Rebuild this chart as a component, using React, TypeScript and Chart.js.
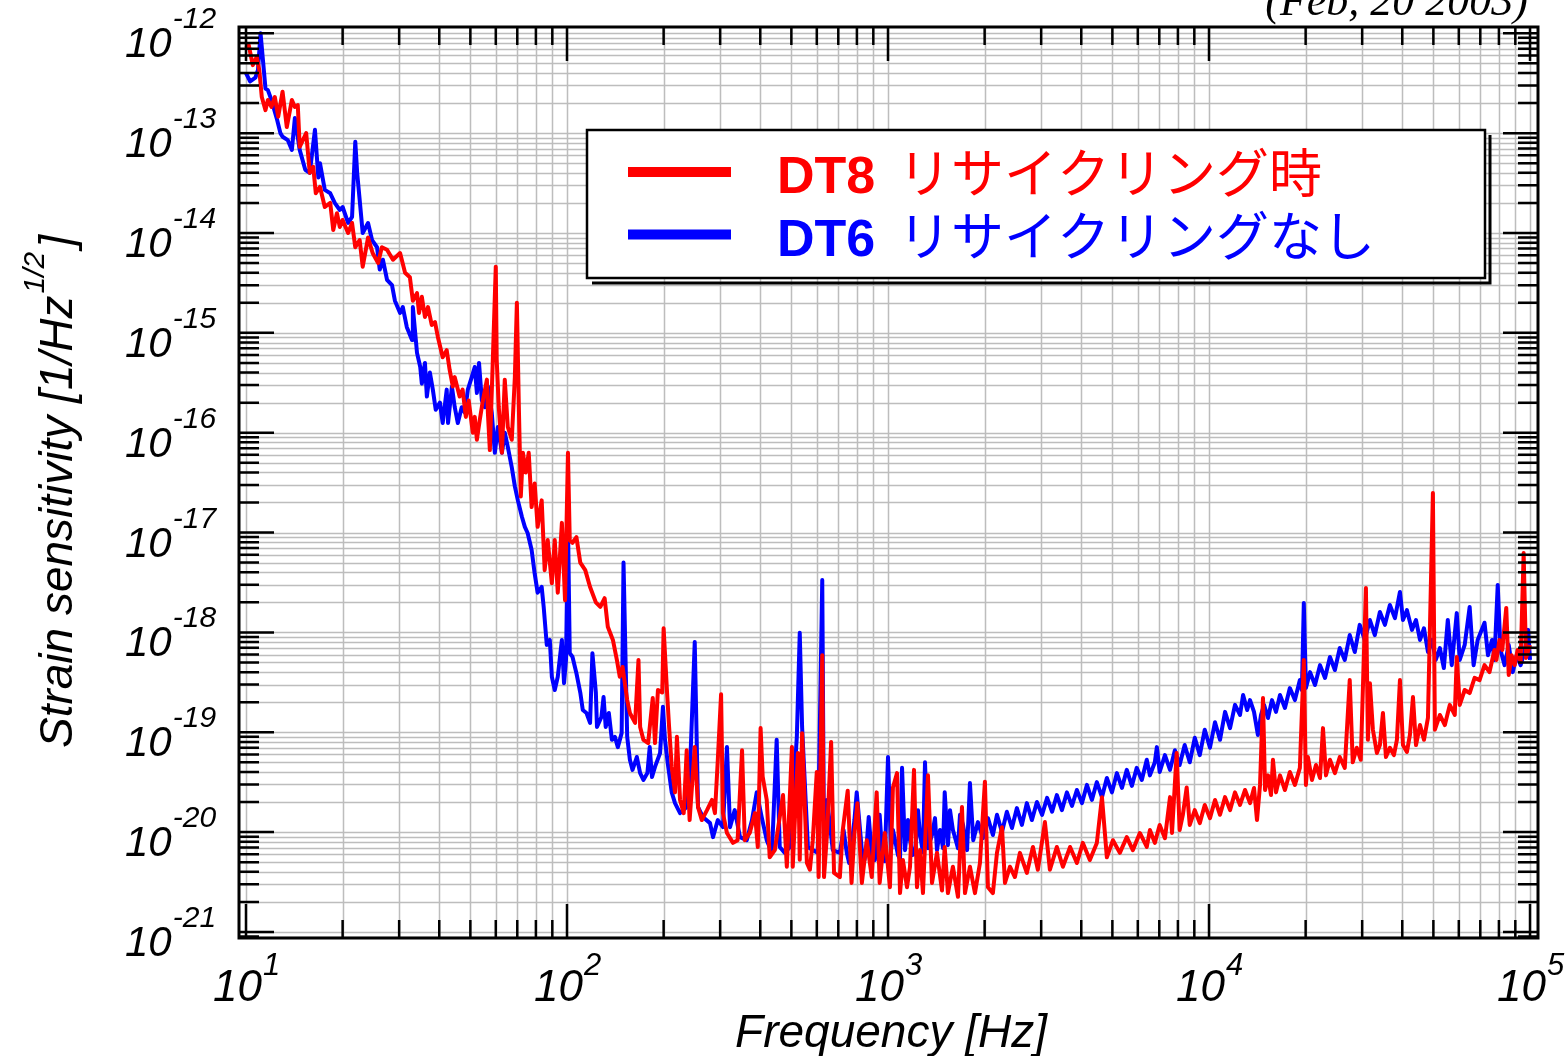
import React, { useEffect, useRef } from "react";
import { Chart, registerables } from "chart.js";

Chart.register(...registerables);

// ---- DT8 (recycling) : frequency [Hz] and strain [1/Hz^1/2]
const dt8Freq = [
  10.0, 10.2, 10.5, 10.8, 11.0, 11.2, 11.5, 11.7, 12.0, 12.3,
  12.6, 13.0, 13.4, 13.9, 14.2, 14.5, 14.7, 15.4, 15.8, 16.2,
  16.5, 17.0, 17.6, 18.3, 18.7, 19.2, 19.6, 20.0, 20.8, 21.4,
  21.9, 22.6, 23.1, 24.0, 24.8, 25.8, 26.5, 27.5, 28.7, 30.2,
  31.3, 32.4, 33.1, 34.1, 34.6, 35.3, 36.1, 36.9, 37.9, 38.8,
  39.6, 41.0, 42.2, 43.1, 44.1, 44.7, 46.3, 47.3, 48.4, 49.4,
  50.9, 51.6, 52.4, 53.5, 54.7, 56.3, 56.7, 57.5, 58.7, 60.0,
  60.4, 61.3, 62.7, 64.0, 65.4, 67.3, 68.8, 69.8, 70.8, 71.8,
  72.9, 74.4, 76.0, 77.6, 79.3, 81.0, 83.4, 85.2, 87.1, 89.7,
  91.6, 93.6, 96.4, 98.6, 100.7, 102, 104, 107, 110, 114,
  118, 123, 127, 131, 134, 139, 143, 146, 149, 154,
  157, 163, 167, 169, 173, 179, 185, 188, 192, 198,
  200, 205, 208, 212, 217, 220, 225, 231, 236, 241,
  250, 256, 263, 273, 283, 289, 295, 302, 306, 315,
  329, 340, 351, 358, 371, 385, 393, 401, 407, 419,
  428, 444, 471, 484, 502, 505, 524, 531, 540, 559,
  571, 583, 600, 608, 624, 632, 646, 665, 679, 708,
  723, 749, 770, 786, 803, 829, 859, 890, 922, 942,
  977, 1014, 1036, 1067, 1090, 1113, 1146, 1171, 1205, 1231,
  1258, 1285, 1332, 1371, 1421, 1473, 1502, 1537, 1593, 1652,
  1700, 1737, 1800, 1866, 1934, 2004, 2048, 2122, 2185, 2265,
  2314, 2398, 2485, 2576, 2707, 2828, 2930, 3082, 3194, 3358,
  3506, 3692, 3876, 4046, 4254, 4473, 4640, 4806, 5020, 5275,
  5545, 5790, 6090, 6400, 6545, 6780, 7020, 7290, 7560, 7670,
  7930, 8100, 8290, 8520, 8710, 9030, 9360, 9700, 10070, 10440,
  10820, 11220, 11630, 12050, 12490, 12950, 13420, 13810, 14110, 14420,
  14730, 14950, 15270, 15600, 15820, 16170, 16640, 17240, 17860, 18520,
  19190, 19740, 20040, 20330, 20930, 21540, 22170, 22650, 23140, 23810,
  24670, 25550, 26480, 27440, 28040, 28850, 29700, 30820, 31260, 31710,
  32400, 33340, 34070, 34820, 35580, 36600, 37670, 38490, 39340, 40200,
  41360, 42260, 43190, 44140, 45420, 46740, 48090, 49830, 50550, 52390,
  54290, 56250, 58290, 59130, 60400, 62590, 64860, 67200, 69640, 72160,
  74780, 77480, 78600, 80290, 81960, 84330, 85850, 87640, 89550, 91510,
  93490, 95540, 97170, 100000,
];
const dt8Strain = [
  7.1e-13, 7.6e-13, 4.8e-13, 5.8e-13, 4.3e-13, 2.3e-13, 1.7e-13, 2.15e-13, 1.83e-13, 2.3e-13,
  1.46e-13, 2.6e-13, 1.15e-13, 2.15e-13, 1.83e-13, 1.91e-13, 7.3e-14, 1.0e-13, 4.0e-14, 4.6e-14,
  2.5e-14, 2.9e-14, 1.82e-14, 2.0e-14, 1.07e-14, 1.58e-14, 1.15e-14, 1.35e-14, 1.0e-14, 1.26e-14,
  7.2e-15, 8.5e-15, 4.6e-15, 9.0e-15, 6.3e-15, 5.0e-15, 7.2e-15, 6.8e-15, 5.4e-15, 6.3e-15,
  4.0e-15, 3.6e-15, 2.1e-15, 2.5e-15, 1.58e-15, 2.3e-15, 1.44e-15, 1.81e-15, 1.2e-15, 1.28e-15,
  9.1e-16, 5.7e-16, 6.7e-16, 4.25e-16, 2.9e-16, 3.6e-16, 2.3e-16, 2.7e-16, 1.44e-16, 2.1e-16,
  1.0e-16, 1.44e-16, 8.5e-17, 1.35e-16, 2.1e-16, 3.4e-16, 1.58e-16, 6.7e-17, 5.0e-16, 4.6e-15,
  5.4e-16, 1.81e-16, 6.3e-17, 3.4e-16, 1.14e-16, 8.5e-17, 3.6e-16, 2.0e-15, 1.81e-16, 2.3e-17,
  6.3e-17, 4.0e-17, 6.3e-17, 1.8e-17, 3.1e-17, 1.14e-17, 2.1e-17, 4.2e-18, 8.4e-18, 3.1e-18,
  8.4e-18, 2.5e-18, 1.25e-17, 2.1e-18, 6.3e-17, 8.4e-18, 7.9e-18, 9.0e-18, 5.0e-18, 4.2e-18,
  2.85e-18, 2.0e-18, 1.8e-18, 2.2e-18, 1.14e-18, 8.4e-19, 5.3e-19, 3.6e-19, 4.5e-19, 2.1e-19,
  1.56e-19, 1.24e-19, 5.3e-19, 1.13e-19, 8.4e-20, 7.8e-20, 2.2e-19, 7.8e-20, 2.65e-19, 2.5e-19,
  1.1e-18, 2.5e-19, 1.13e-19, 4.5e-20, 2.5e-20, 9.0e-20, 2.1e-20, 1.55e-20, 6.6e-20, 1.32e-20,
  7.1e-20, 1.78e-20, 1.32e-20, 1.66e-20, 2.1e-20, 1.55e-20, 5.3e-20, 2.4e-19, 1.55e-20, 9.8e-21,
  7.8e-21, 8.3e-21, 6.6e-20, 8.3e-21, 9.8e-21, 1.55e-20, 7.1e-21, 1.1e-19, 3.6e-20, 2.1e-20,
  5.6e-21, 6.6e-21, 2.35e-20, 4.5e-21, 7.1e-20, 4.5e-21, 6.2e-20, 5.3e-21, 9.8e-20, 4.9e-21,
  4.2e-21, 8.3e-21, 4.0e-20, 3.55e-21, 5.9e-19, 3.55e-21, 9.8e-21, 8.0e-20, 3.9e-21, 3.55e-21,
  1.05e-20, 2.6e-20, 3.1e-21, 9.8e-21, 1.95e-20, 3.1e-21, 8.3e-21, 3.55e-21, 2.5e-20, 3.1e-21,
  9.8e-21, 2.8e-21, 2.8e-20, 3.9e-20, 2.45e-21, 5.25e-21, 2.8e-21, 4.5e-21, 4.2e-20, 2.8e-21,
  6.6e-21, 2.45e-21, 3.7e-20, 3.1e-21, 6.2e-21, 2.6e-21, 7.1e-21, 2.45e-21, 4.5e-21, 2.25e-21,
  1.78e-20, 2.45e-21, 4.5e-21, 2.45e-21, 4.9e-21, 3.2e-20, 2.8e-21, 2.45e-21, 6.2e-21, 1.12e-20,
  3.1e-21, 4.5e-21, 3.55e-21, 6.2e-21, 3.9e-21, 7.1e-21, 4.2e-21, 1.26e-20, 4.2e-21, 7.1e-21,
  4.5e-21, 7.1e-21, 4.9e-21, 7.8e-21, 5.25e-21, 7.8e-21, 2.24e-20, 5.6e-21, 8.3e-21, 6.2e-21,
  8.9e-21, 6.6e-21, 9.8e-21, 7.1e-21, 1.05e-20, 7.8e-21, 1.18e-20, 8.7e-21, 2.24e-20, 9.8e-21,
  6.2e-20, 1.05e-20, 1.49e-20, 2.8e-20, 1.18e-20, 1.66e-20, 1.23e-20, 1.87e-20, 1.38e-20, 2.1e-20,
  1.49e-20, 2.24e-20, 1.66e-20, 2.5e-20, 1.87e-20, 2.64e-20, 1.95e-20, 2.77e-20, 1.32e-20, 2.97e-20,
  2.2e-19, 2.64e-20, 3.7e-20, 2.35e-20, 5.3e-20, 2.5e-20, 3.7e-20, 2.64e-20, 4.0e-20, 2.97e-20,
  4.4e-20, 5.3e-19, 2.97e-20, 5.65e-20, 3.33e-20, 4.7e-20, 3.48e-20, 1.1e-19, 3.7e-20, 5.3e-20,
  3.9e-20, 5.65e-20, 4.4e-20, 3.33e-19, 5.0e-20, 7.0e-20, 5.3e-20, 2.78e-18, 8.4e-20, 3.1e-19,
  1.06e-19, 6.2e-20, 7.45e-20, 1.56e-19, 5.65e-20, 7.0e-20, 5.9e-20, 8.4e-20, 3.33e-19, 7.45e-20,
  6.35e-20, 9.4e-20, 2.25e-19, 7.45e-20, 1.18e-19, 8.4e-20, 1.39e-19, 2.49e-17, 1.06e-19, 1.49e-19,
  1.18e-19, 1.88e-19, 1.49e-19, 5.67e-19, 1.88e-19, 2.65e-19, 2.47e-19, 3.5e-19, 3.33e-19, 4.7e-19,
  4.0e-19, 6.67e-19, 5.3e-19, 8.4e-19, 6.67e-19, 1.76e-18, 3.75e-19, 5.9e-19, 4.7e-19, 6.67e-19,
  5.05e-19, 6.24e-18, 5.54e-19, 7.48e-19,
];

// ---- DT6 (no recycling)
const dt6Freq = [
  10.0, 10.3, 10.7, 10.9, 11.1, 11.5, 11.7, 12.0, 12.5, 12.8,
  13.0, 13.5, 13.9, 14.2, 14.7, 15.3, 15.8, 16.4, 16.8, 17.0,
  17.6, 18.3, 18.9, 19.6, 20.0, 20.8, 21.4, 21.9, 22.2, 22.6,
  23.1, 24.0, 24.7, 25.6, 26.1, 26.7, 27.5, 28.5, 29.1, 30.2,
  30.8, 31.7, 32.9, 33.1, 34.1, 34.9, 35.3, 36.1, 36.6, 37.4,
  38.2, 39.0, 40.2, 41.0, 42.2, 42.6, 43.8, 44.7, 45.7, 47.0,
  48.1, 49.1, 50.5, 51.6, 52.4, 53.2, 54.3, 55.5, 56.7, 58.3,
  59.6, 60.9, 62.7, 64.0, 65.4, 67.3, 68.8, 70.3, 72.4, 73.9,
  75.4, 77.6, 79.3, 81.0, 83.4, 84.6, 86.5, 88.4, 89.7, 91.6,
  93.6, 96.4, 97.9, 99.3, 100.7, 102, 104, 107, 110, 112,
  115, 118, 120, 123, 124, 128, 130, 132, 135, 138,
  141, 144, 148, 150, 154, 157, 160, 165, 169, 173,
  178, 181, 184, 188, 195, 199, 202, 206, 212, 217,
  225, 236, 241, 250, 256, 265, 279, 285, 295, 306,
  315, 322, 333, 346, 363, 377, 390, 404, 419, 435,
  450, 460, 477, 495, 520, 531, 540, 563, 583, 604,
  624, 632, 646, 673, 708, 727, 744, 757, 770, 786,
  799, 829, 845, 859, 871, 890, 910, 922, 942, 959,
  977, 1000, 1022, 1036, 1052, 1074, 1090, 1106, 1130, 1154,
  1171, 1193, 1214, 1240, 1258, 1285, 1304, 1332, 1371, 1401,
  1421, 1452, 1484, 1502, 1537, 1560, 1593, 1652, 1676, 1713,
  1763, 1800, 1843, 1906, 1975, 2048, 2122, 2185, 2265,
  2346, 2433, 2521, 2613, 2707, 2808, 2910, 3019, 3131, 3245,
  3358, 3481, 3609, 3742, 3876, 4019, 4165, 4317, 4473, 4640,
  4806, 4985, 5165, 5355, 5545, 5750, 5955, 6175, 6400, 6545,
  6780, 6880, 7020, 7290, 7560, 7830, 8100, 8400, 8710, 9030,
  9360, 9700, 10070, 10440, 10820, 11220, 11630, 12050, 12490, 12770,
  13150, 13420, 13810, 14200, 14520, 14840, 15270, 15710, 16170, 16640,
  17240, 17860, 18520, 19190, 19470, 19740, 20040, 20640, 21390, 22170,
  22980, 23810, 24670, 25550, 26480, 27440, 28450, 29480, 30560, 31710,
  32850, 34070, 35320, 36600, 37950, 39340, 40200, 41360, 42870, 44140,
  45420, 46740, 48090, 49490, 50860, 52390, 53900, 55450, 57050, 59130,
  60400, 62590, 64860, 66730, 68700, 72160, 73970, 76150, 77480, 79330,
  80930, 83320, 85850, 88350, 90900, 93490, 96400, 98640, 100000,
];
const dt6Strain = [
  4.0e-13, 3.3e-13, 3.6e-13, 4.3e-13, 1.0e-12, 2.8e-13, 2.7e-13, 2.15e-13, 1.36e-13, 1.0e-13,
  9.2e-14, 8.5e-14, 6.8e-14, 1.42e-13, 6.8e-14, 4.3e-14, 4.0e-14, 1.08e-13, 3.6e-14, 5.0e-14,
  2.7e-14, 2.5e-14, 2.0e-14, 1.7e-14, 1.82e-14, 1.26e-14, 1.45e-14, 8.2e-14, 4.0e-14, 2.15e-14,
  1.0e-14, 1.26e-14, 8.5e-15, 7.2e-15, 4.3e-15, 5.4e-15, 3.4e-15, 3.0e-15, 2.1e-15, 1.58e-15,
  1.81e-15, 1.14e-15, 8.5e-16, 1.81e-15, 6.3e-16, 4.55e-16, 3.1e-16, 5.0e-16, 2.3e-16, 4.0e-16,
  2.7e-16, 1.7e-16, 2.0e-16, 1.25e-16, 2.7e-16, 1.25e-16, 2.9e-16, 1.8e-16, 1.25e-16, 1.8e-16,
  1.58e-16, 2.7e-16, 3.6e-16, 4.55e-16, 2.5e-16, 5.0e-16, 2.1e-16, 1.8e-16, 2.9e-16, 1.58e-16,
  6.3e-17, 1.14e-16, 6.3e-17, 1.0e-16, 7.2e-17, 4.5e-17, 2.9e-17, 2.1e-17, 1.43e-17, 1.14e-17,
  9.9e-18, 6.7e-18, 3.9e-18, 2.5e-18, 2.85e-18, 1.8e-18, 7.5e-19, 8.4e-19, 3.6e-19, 2.65e-19,
  3.6e-19, 8.4e-19, 3.1e-19, 5.3e-19, 1.25e-17, 6.2e-19, 5.7e-19, 3.9e-19, 2.5e-19, 1.67e-19,
  1.56e-19, 1.24e-19, 6.2e-19, 2.5e-19, 1.13e-19, 1.42e-19, 2.25e-19, 1.13e-19, 1.56e-19, 8.4e-20,
  9.0e-20, 7.1e-20, 9.8e-20, 5.0e-18, 9.0e-20, 5.3e-20, 4.2e-20, 5.65e-20, 3.9e-20, 3.33e-20,
  3.9e-20, 7.1e-20, 3.56e-20, 4.5e-20, 6.2e-20, 1.8e-19, 8.4e-20, 4.9e-20, 2.5e-20, 1.95e-20,
  1.55e-20, 1.78e-20, 3.33e-20, 8.0e-19, 1.78e-20, 1.42e-20, 1.23e-20, 8.9e-21, 1.32e-20, 1.12e-20,
  7.1e-20, 1.12e-20, 1.66e-20, 8.9e-21, 8.3e-21, 1.32e-20, 2.5e-20, 1.42e-20, 8.3e-21, 6.2e-21,
  8.4e-20, 7.1e-21, 6.2e-21, 7.1e-21, 9.0e-20, 9.9e-19, 1.13e-19, 7.1e-21, 6.6e-21, 6.2e-21,
  3.35e-18, 6.2e-21, 2.1e-20, 6.6e-21, 6.2e-21, 1.05e-20, 6.2e-21, 4.9e-21, 7.4e-21, 1.32e-20,
  2.5e-20, 6.6e-21, 5.25e-21, 7.8e-21, 1.42e-20, 5.9e-21, 5.25e-21, 8.3e-21, 1.49e-20, 6.3e-21,
  5.1e-21, 5.65e-20, 6.6e-21, 1.05e-20, 8.3e-21, 5.9e-21, 5.4e-21, 4.4e-20, 6.6e-21, 1.32e-20,
  8.3e-21, 5.9e-21, 6.2e-21, 1.66e-20, 9.35e-21, 6.3e-21, 5.0e-20, 6.9e-21, 9.35e-21, 1.38e-20,
  6.6e-21, 1.05e-20, 6.9e-21, 2.5e-20, 7.4e-21, 1.66e-20, 1.05e-20, 6.9e-21, 1.49e-20, 1.18e-20,
  6.6e-21, 3.1e-20, 8.3e-21, 1.26e-20, 8.7e-21, 1.38e-20, 9.35e-21, 1.49e-20, 1.0e-20,
  1.6e-20, 1.1e-20, 1.74e-20, 1.18e-20, 1.95e-20, 1.32e-20, 2.0e-20, 1.49e-20, 2.2e-20, 1.6e-20,
  2.35e-20, 1.66e-20, 2.5e-20, 1.83e-20, 2.64e-20, 1.95e-20, 2.97e-20, 2.1e-20, 3.17e-20, 2.24e-20,
  3.48e-20, 2.5e-20, 3.9e-20, 2.77e-20, 4.2e-20, 2.9e-20, 4.4e-20, 3.33e-20, 5.3e-20, 3.7e-20,
  5.0e-20, 7.1e-20, 4.0e-20, 5.9e-20, 4.2e-20, 6.6e-20, 4.7e-20, 7.45e-20, 5.0e-20, 8.8e-20,
  5.9e-20, 1.06e-19, 7.0e-20, 1.26e-19, 8.4e-20, 1.6e-19, 1.1e-19, 1.88e-19, 1.49e-19, 2.36e-19,
  1.67e-19, 2.1e-19, 1.6e-19, 9.4e-20, 1.49e-19, 1.88e-19, 1.39e-19, 2.1e-19, 1.6e-19, 2.36e-19,
  1.75e-19, 2.77e-19, 2.1e-19, 3.33e-19, 2.65e-19, 1.97e-18, 2.77e-19, 4.0e-19, 2.97e-19, 4.7e-19,
  3.5e-19, 5.67e-19, 4.2e-19, 6.97e-19, 5.3e-19, 9.4e-19, 6.36e-19, 1.19e-18, 8.4e-19, 1.33e-18,
  9.4e-19, 1.6e-18, 1.19e-18, 1.88e-18, 1.39e-18, 2.54e-18, 1.33e-18, 1.67e-18, 1.06e-18, 1.33e-18,
  8.4e-19, 1.1e-18, 6.36e-19, 8.4e-19, 5.3e-19, 6.97e-19, 4.4e-19, 1.33e-18, 4.7e-19, 1.56e-18,
  5.3e-19, 7.48e-19, 1.8e-18, 4.7e-19, 8.4e-19, 1.25e-18, 5.9e-19, 8.4e-19, 5.3e-19, 2.99e-18,
  6.67e-19, 4.7e-19, 7.48e-19, 4.0e-19, 5.9e-19, 4.7e-19, 6.67e-19, 1.06e-18, 5.3e-19,
];

const xDecadeExponents = ["1", "2", "3", "4", "5"];
const yDecadeExponents = ["-12", "-13", "-14", "-15", "-16", "-17", "-18", "-19", "-20", "-21"];
const legendCodes = ["DT8", "DT6"];
const legendNotes = ["リサイクリング時", "リサイクリングなし"];
const seriesColors = ["#ff0000", "#0000ff"];
const dateNote = "(Feb, 20 2003)";
const xAxisTitle = "Frequency [Hz]";
const yAxisTitle = "Strain sensitivity [1/Hz";
const yAxisTitleSup = "1/2";
const yAxisTitleEnd = "]";

const X_MIN = 9.511;
const X_MAX = 105900;
const Y_MIN = 8.7e-22;
const Y_MAX = 1.156e-12;

const SANS = '"Liberation Sans", Arial, sans-serif';
const SERIF = '"Liberation Serif", "Times New Roman", serif';
const CJK = '"Noto Sans CJK JP", "Noto Sans CJK SC", sans-serif';

function minorValues(lo: number, hi: number, eMin: number, eMax: number) {
  const out: { v: number; major: boolean }[] = [];
  for (let e = eMin; e <= eMax; e++) {
    for (let m = 1; m <= 9; m++) {
      const v = m * Math.pow(10, e);
      if (v >= lo && v <= hi) out.push({ v, major: m === 1 });
    }
  }
  return out;
}

const decorations = {
  id: "decorations",
  beforeDraw(chart: any) {
    const ctx = chart.ctx;
    ctx.save();
    ctx.fillStyle = "#ffffff";
    ctx.fillRect(0, 0, chart.width, chart.height);
    ctx.restore();
  },
  beforeDatasetsDraw(chart: any) {
    const { ctx, chartArea: a, scales } = chart;
    const xs = scales.x;
    const ys = scales.y;
    ctx.save();
    ctx.beginPath();
    ctx.rect(a.left, a.top, a.right - a.left, a.bottom - a.top);
    ctx.clip();
    ctx.strokeStyle = "#bdbdbd";
    ctx.lineWidth = 1.5;
    for (const t of minorValues(X_MIN, X_MAX, 0, 5)) {
      const p = Math.round(xs.getPixelForValue(t.v)) + 0.5;
      ctx.beginPath();
      ctx.moveTo(p, a.top);
      ctx.lineTo(p, a.bottom);
      ctx.stroke();
    }
    for (const t of minorValues(Y_MIN, Y_MAX, -22, -12)) {
      const p = Math.round(ys.getPixelForValue(t.v)) + 0.5;
      ctx.beginPath();
      ctx.moveTo(a.left, p);
      ctx.lineTo(a.right, p);
      ctx.stroke();
    }
    ctx.restore();
  },
  afterDatasetsDraw(chart: any) {
    const { ctx, chartArea: a, scales } = chart;
    const xs = scales.x;
    const ys = scales.y;
    ctx.save();

    // ticks (inward, all four sides)
    ctx.strokeStyle = "#000000";
    ctx.lineWidth = 2.5;
    ctx.lineCap = "butt";
    for (const t of minorValues(X_MIN, X_MAX, 0, 5)) {
      const p = xs.getPixelForValue(t.v);
      const len = t.major ? 34 : 18;
      ctx.beginPath();
      ctx.moveTo(p, a.bottom);
      ctx.lineTo(p, a.bottom - len);
      ctx.moveTo(p, a.top);
      ctx.lineTo(p, a.top + len);
      ctx.stroke();
    }
    for (const t of minorValues(Y_MIN, Y_MAX, -22, -12)) {
      const p = ys.getPixelForValue(t.v);
      const len = t.major ? 35 : 20;
      ctx.beginPath();
      ctx.moveTo(a.left, p);
      ctx.lineTo(a.left + len, p);
      ctx.moveTo(a.right, p);
      ctx.lineTo(a.right - len, p);
      ctx.stroke();
    }
    // frame
    ctx.lineWidth = 3;
    ctx.strokeRect(a.left, a.top, a.right - a.left, a.bottom - a.top);

    // x tick labels
    ctx.fillStyle = "#000000";
    xDecadeExponents.forEach((ex) => {
      const p = xs.getPixelForValue(Math.pow(10, Number(ex)));
      ctx.font = `italic 44px ${SANS}`;
      ctx.textAlign = "right";
      ctx.textBaseline = "alphabetic";
      ctx.fillText("10", p + 16, a.bottom + 63);
      ctx.font = `italic 31px ${SANS}`;
      ctx.textAlign = "left";
      ctx.fillText(ex, p + 17, a.bottom + 37);
    });
    // y tick labels
    yDecadeExponents.forEach((ex) => {
      const p = ys.getPixelForValue(Math.pow(10, Number(ex)));
      ctx.font = `italic 42px ${SANS}`;
      ctx.textAlign = "left";
      ctx.textBaseline = "alphabetic";
      ctx.fillText("10", 125, p + 24);
      const w = ctx.measureText("10").width;
      ctx.font = `italic 30px ${SANS}`;
      ctx.fillText(ex, 125 + w + 1, p - 5);
    });

    // axis titles
    ctx.font = `italic 46px ${SANS}`;
    ctx.textAlign = "center";
    ctx.fillText(xAxisTitle, 891, 1047);

    ctx.save();
    ctx.translate(72, 748);
    ctx.rotate(-Math.PI / 2);
    ctx.textAlign = "left";
    ctx.font = `italic 46px ${SANS}`;
    ctx.fillText(yAxisTitle, 0, 0);
    const w1 = ctx.measureText(yAxisTitle).width;
    ctx.font = `italic 30px ${SANS}`;
    ctx.fillText(yAxisTitleSup, w1 + 2, -28);
    const w2 = ctx.measureText(yAxisTitleSup).width;
    ctx.font = `italic 46px ${SANS}`;
    ctx.fillText(yAxisTitleEnd, w1 + w2 + 6, 0);
    ctx.restore();

    // date note
    ctx.font = `italic 44px ${SERIF}`;
    ctx.textAlign = "right";
    ctx.fillText(dateNote, 1528, 15);

    // legend box
    const bx = 587, by = 130, bw = 898, bh = 148;
    ctx.fillStyle = "#ffffff";
    ctx.fillRect(bx, by, bw, bh);
    ctx.strokeStyle = "#000000";
    ctx.lineWidth = 2.5;
    ctx.strokeRect(bx, by, bw, bh);
    ctx.lineWidth = 3;
    ctx.beginPath();
    ctx.moveTo(bx + 5, by + bh + 5);
    ctx.lineTo(bx + bw + 5, by + bh + 5);
    ctx.lineTo(bx + bw + 5, by + 5);
    ctx.stroke();

    const rowsY = [172, 234.5];
    legendCodes.forEach((code, i) => {
      const yy = rowsY[i];
      ctx.strokeStyle = seriesColors[i];
      ctx.lineWidth = 10;
      ctx.beginPath();
      ctx.moveTo(628, yy);
      ctx.lineTo(731, yy);
      ctx.stroke();
      ctx.fillStyle = seriesColors[i];
      ctx.textAlign = "left";
      ctx.font = `bold 52px ${SANS}`;
      ctx.fillText(code, 777, yy + 21);
      ctx.font = `53px ${CJK}`;
      ctx.fillText(legendNotes[i], 898, yy + 21);
    });

    ctx.restore();
  },
};

export default function App() {
  const canvasRef = useRef<HTMLCanvasElement | null>(null);

  useEffect(() => {
    const canvas = canvasRef.current;
    if (!canvas) return;
    const chart = new Chart(canvas, {
      type: "line",
      data: {
        datasets: [
          {
            label: legendCodes[0],
            data: dt8Freq.map((f, i) => ({ x: f, y: dt8Strain[i] })),
            borderColor: seriesColors[0],
            borderWidth: 4,
            pointRadius: 0,
            tension: 0,
            fill: false,
            borderJoinStyle: "round",
          },
          {
            label: legendCodes[1],
            data: dt6Freq.map((f, i) => ({ x: f, y: dt6Strain[i] })),
            borderColor: seriesColors[1],
            borderWidth: 4,
            pointRadius: 0,
            tension: 0,
            fill: false,
            borderJoinStyle: "round",
          },
        ],
      },
      options: {
        animation: false,
        responsive: false,
        devicePixelRatio: 1,
        events: [],
        layout: { padding: { left: 239, right: 30, top: 27, bottom: 118 } },
        scales: {
          x: { type: "logarithmic", min: X_MIN, max: X_MAX, display: false },
          y: { type: "logarithmic", min: Y_MIN, max: Y_MAX, display: false },
        },
        plugins: {
          legend: { display: false },
          tooltip: { enabled: false },
          title: { display: false },
        },
      },
      plugins: [decorations],
    } as any);
    return () => chart.destroy();
  }, []);

  return (
    <div style={{ position: "absolute", left: 0, top: 0, width: 1568, height: 1056, background: "#ffffff" }}>
      <canvas ref={canvasRef} width={1568} height={1056} style={{ display: "block", width: 1568, height: 1056 }} />
    </div>
  );
}
